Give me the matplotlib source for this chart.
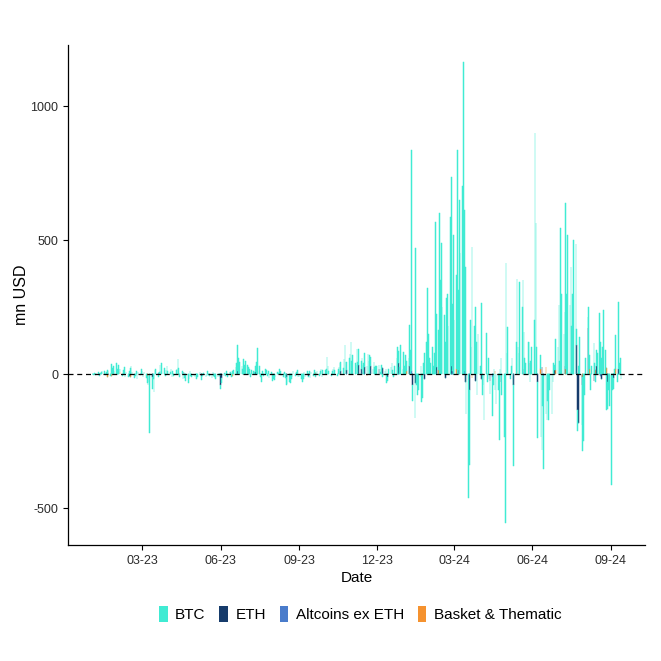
import matplotlib
matplotlib.use("Agg")
import matplotlib.pyplot as plt
import matplotlib.dates as mdates
from matplotlib.patches import Patch
import numpy as np
import pandas as pd

plt.rcParams['font.family'] = ['Liberation Sans', 'DejaVu Sans']
plt.rcParams['axes.unicode_minus'] = False

# daily BTC flows (mn USD), business days from 2023-01-02, one line per month
btc = [
    2, -3, 4, -5, 3, 6, -2, 5, 8, 12, 10, -4, 6, 15, 9, -6, 38, 22, 30, 12, 42, 18,  # Jan 23
    35, 20, 12, -8, 15, 28, -10, 6, -12, 10, 22, 30, 8, -15, -6, 12, -20, 9, -5, 18,  # Feb 23
    12, -10, 8, -15, -25, -40, -30, -220, -45, -20, -68, 15, 20, -10, 8, 35, 12, 40, 22, -8, 15, 30, 10,  # Mar 23
    8, 20, -12, 10, -6, 15, 18, 50, 22, -10, 12, -18, 6, -15, -25, -35, -20, 10, -8, -12,  # Apr 23
    -6, -10, 5, -20, -12, 8, -5, -15, -8, 4, -10, -6, 12, -4, -9, -14, 6, -7, -12, -18, -10, 5, -8,  # May 23
    -15, -20, -8, 5, -6, 10, -12, 8, 6, -10, 12, 15, 25, 40, 100, 60, 45, 30, 20, 55, 35, 50,  # Jun 23
    35, 28, 20, -12, 15, 10, 8, 22, 45, 98, 30, -10, -30, 12, -8, 20, 15, -6, 10, -15, 8,  # Jul 23
    -25, -18, -22, -10, 8, 5, 20, 12, -8, -12, 6, -15, -30, -37, -28, -35, -20, -12, 10, -8, 6, 15, -10,  # Aug 23
    -12, -18, -30, -20, 8, -10, 12, -6, 10, -14, 6, -8, 15, -12, 8, 10, -6, 12, 18, -10, 14,  # Sep 23
    15, 20, 62, 30, 10, -8, 12, 18, 25, 14, -6, 20, 28, 40, 35, 22, 55, 108, 45, 30, 60, 75,  # Oct 23
    120, 50, 70, 40, 35, 93, 45, 60, 30, 60, 25, 40, 55, 30, 75, 48, 70, 35, 20, 45, 25, 30,  # Nov 23
    30, 15, 20, 8, 35, -10, 12, 20, -35, -15, 18, 25, 40, 15, -12, 30, 60, 100, 45, 25, 108,  # Dec 23
    20, 82, 30, 70, 40, 60, 153, 90, 828, -60, -164, 470, -40, -80, -60, 30, -104, -90, 40, 80, 120, 320, 150,  # Jan 24
    60, 40, 100, 30, 80, 567, 200, 150, 600, 350, 490, 250, 220, 120, 284, 300, 180, 586, 705, 250, 520,  # Feb 24
    200, 350, 836, 300, 650, 450, 700, 1165, 600, 400, -150, -463, -280, 200, 100, 474, 180, 250, 120, -80, 150,  # Mar 24
    30, 264, -80, -40, -172, 152, -30, 60, -20, -50, -147, -40, 20, -60, -110, -60, -246, 20, 60, -80, -235, -556,  # Apr 24
    414, 80, 176, -20, 30, 60, -40, -302, 120, 343, 100, 80, 343, 250, 332, 150, 60, 40, 120, 80, -30, 50, 100,  # May 24
    200, 900, 563, 100, -210, 50, -235, -284, -120, -346, -150, -172, -100, -172, -60, -150, -30, 40, 20, 115,  # Jun 24
    100, 257, 50, 545, 300, 150, 200, 619, 300, 519, 250, 400, 180, 300, 500, 485, 60, -80, 30, 138, -150, -276, -250,  # Jul 24
    -80, 60, 43, 250, 50, -60, 30, 115, 40, -30, 60, 80, 227, 120, 60, 100, 239, 90, -134, -100, -60, -120,  # Aug 24
    -414, -60, -40, 20, 127, -30, 250, 40, 60, -20,  # Sep 24
]

# the smaller groups: only the days where a bar is visible
eth_dates = ['2023-01-10', '2023-01-20', '2023-02-14', '2023-03-13', '2023-04-18', '2023-05-10',
             '2023-06-01', '2023-06-02', '2023-06-21', '2023-07-12', '2023-08-17', '2023-09-12',
             '2023-10-20', '2023-10-27', '2023-11-10', '2023-11-13', '2023-11-17', '2023-11-24',
             '2023-12-04', '2023-12-08', '2023-12-14', '2023-12-27', '2024-01-09', '2024-01-12',
             '2024-01-16', '2024-01-26', '2024-02-09', '2024-02-20', '2024-02-27', '2024-03-14',
             '2024-03-19', '2024-03-26', '2024-04-02', '2024-04-12', '2024-04-24', '2024-05-10',
             '2024-05-21', '2024-05-28', '2024-06-07', '2024-06-12', '2024-06-27', '2024-07-09',
             '2024-07-23', '2024-07-24', '2024-07-25', '2024-07-29', '2024-08-05', '2024-08-12',
             '2024-08-15', '2024-08-21', '2024-08-28', '2024-09-04', '2024-09-10']
eth_values = [-5, 4, -6, -12, 8, -6,
              -40, -15, 10, 8, -10, -6,
              10, 15, 35, 20, 25, 30,
              18, 22, -10, 40, 30, -40,
              -35, -20, 25, -15, 30, -30,
              -60, -25, -20, -25, -30, -40,
              20, 40, -30, 25, 15, 30,
              107, -133, -183, -40, 170, -25,
              30, -20, -30, -15, 20]

alt_dates = ['2023-03-20', '2023-11-15', '2024-01-11', '2024-02-28', '2024-03-06', '2024-03-13',
             '2024-04-15', '2024-05-22', '2024-06-14', '2024-07-15', '2024-08-20']
alt_values = [5, 8, 10, 12, 15, 12, -10, 8, -8, 6, -6]

basket_dates = ['2023-01-19', '2023-01-24', '2023-02-03', '2023-02-15', '2023-03-07', '2023-04-12',
                '2023-06-15', '2023-09-20', '2023-11-20', '2024-01-05', '2024-01-22', '2024-02-12',
                '2024-03-04', '2024-03-22', '2024-04-18', '2024-05-14', '2024-06-10', '2024-06-17',
                '2024-06-28', '2024-07-10', '2024-07-30', '2024-08-07', '2024-08-14', '2024-08-27',
                '2024-09-06']
basket_values = [-12, -8, 6, -10, -8, 5,
                 -6, 5, -8, 10, -12, 15,
                 18, -15, 12, 10, 20, 25,
                 15, 18, -10, 20, 15, 22,
                 18]

labels = ['BTC', 'ETH', 'Altcoins ex ETH', 'Basket & Thematic']
colors = ['#40EBD3', '#163B6B', '#4A7CCB', '#F5922F']

dates = pd.bdate_range('2023-01-02', periods=len(btc))
df = pd.DataFrame(0.0, index=dates, columns=labels)
df['BTC'] = btc
for col, d, v in [('ETH', eth_dates, eth_values),
                  ('Altcoins ex ETH', alt_dates, alt_values),
                  ('Basket & Thematic', basket_dates, basket_values)]:
    df.loc[pd.to_datetime(d), col] = v

fig = plt.figure(figsize=(6.61, 6.61), dpi=100)
ax = fig.add_axes([68 / 661, 1 - 545 / 661, (645 - 68) / 661, (545 - 45) / 661])

# ggplot-style stacking: last group nearest zero, BTC on the outside
pos_base = np.zeros(len(df))
neg_base = np.zeros(len(df))
for col, c in reversed(list(zip(labels, colors))):
    v = df[col].values
    pos = np.where(v > 0, v, 0)
    neg = np.where(v < 0, v, 0)
    keep = v != 0
    ax.bar(df.index[keep], pos[keep], bottom=pos_base[keep], width=0.8, color=c,
           edgecolor=c, linewidth=0.35)
    ax.bar(df.index[keep], neg[keep], bottom=neg_base[keep], width=0.8, color=c,
           edgecolor=c, linewidth=0.35)
    pos_base += pos
    neg_base += neg

ax.axhline(0, color='black', linestyle=(0, (4, 3)), linewidth=0.9)

ax.set_xlim(pd.Timestamp('2022-12-04'), pd.Timestamp('2024-10-11'))
ax.set_ylim(-638, 1228)
ax.set_yticks([-500, 0, 500, 1000])
ticks = pd.to_datetime(['2023-03-01', '2023-06-01', '2023-09-01', '2023-12-01',
                        '2024-03-01', '2024-06-01', '2024-09-01'])
ax.set_xticks(ticks)
ax.xaxis.set_major_formatter(mdates.DateFormatter('%m-%y'))

for s in ['top', 'right']:
    ax.spines[s].set_visible(False)
for s in ['left', 'bottom']:
    ax.spines[s].set_linewidth(0.9)
ax.tick_params(length=3.5, width=0.8, labelsize=9, colors='black', labelcolor='#2b2b2b')

ax.set_xlabel('Date', fontsize=11, labelpad=3)
ax.set_ylabel('mn USD', fontsize=11.5, labelpad=1)

handles = [Patch(facecolor=c, edgecolor='none', label=l) for l, c in zip(labels, colors)]
fig.legend(handles=handles, loc='center', bbox_to_anchor=(0.545, 1 - 614 / 661), ncol=4,
           frameon=False, fontsize=11, handlelength=0.55, handleheight=1.3,
           handletextpad=0.5, columnspacing=0.9)

fig.savefig('out.png', dpi=100)
